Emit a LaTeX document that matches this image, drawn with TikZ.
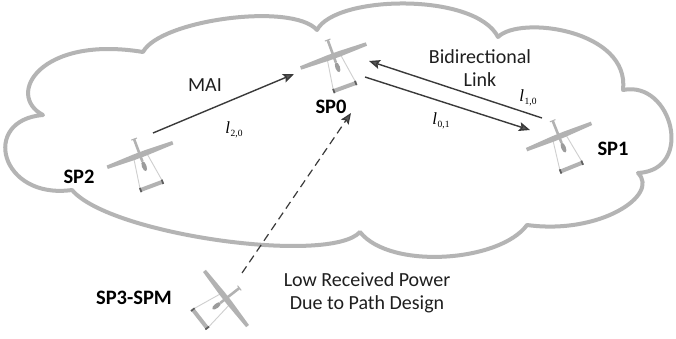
\documentclass[tikz,border=0pt]{standalone}
\usepackage{fontspec}
\setmainfont{Carlito}
\newfontfamily\serifface{Liberation Serif}
\usetikzlibrary{arrows.meta}

\definecolor{cloudc}{HTML}{B4B4B4}
\definecolor{wingc}{HTML}{B2B2B2}
\definecolor{podc}{HTML}{9C9C9C}
\definecolor{boomc}{HTML}{CFCFCF}
\definecolor{capc}{HTML}{5E5E5E}
\definecolor{linkc}{HTML}{3A3A3A}

% link label: italic l with an upright subscript pair
\newcommand{\linklabel}[1]{{\serifface\fontsize{17}{17}\selectfont\itshape l\kern0.5pt\raisebox{-3.5pt}{\fontsize{9.5}{9.5}\selectfont\upshape #1}}}

\tikzset{
  txt/.style={font=\fontsize{20}{23}\selectfont, text=black!88, align=center, inner sep=0pt},
  tag/.style={font=\bfseries\fontsize{20.5}{23}\selectfont, text=black, inner sep=0pt},
  lbl/.style={inner sep=0pt},
  link/.style={draw=linkc, line width=1.4pt,
    -{Stealth[length=11pt,width=9pt,inset=2pt,fill=linkc!85]}},
  weaklink/.style={link, dashed, dash pattern=on 8pt off 5pt, line width=1.2pt},
  plane/.pic={
    % tail booms
    \draw[boomc, line width=0.9pt] (-7,1) -- (-12,33) (7,1) -- (12,33);
    % main wing
    \fill[wingc] (-35,-1.8) -- (-6,-2.8) -- (6,-2.8) -- (35,-1.8)
                 -- (35,1.8) -- (6,2.8) -- (-6,2.8) -- (-35,1.8) -- cycle;
    % fuselage and propeller
    \draw[wingc, line width=2.6pt] (0,-17) -- (0,7);
    \draw[wingc, line width=1pt] (-3,-17) -- (3,-17);
    \fill[podc] (0,12) ellipse (2.3 and 5.2);
    % tail plane with darker tips
    \draw[wingc, line width=4pt] (-12.5,33) -- (12.5,33);
    \draw[capc, line width=4.6pt] (-12.5,33) -- (-10.8,33) (10.8,33) -- (12.5,33);
  }
}

\begin{document}
\begin{tikzpicture}[x=1pt, y=-1pt]
\useasboundingbox[fill=white] (0,0) rectangle (676,339);

% cloud outline
\draw[cloudc, line width=4pt, line join=round]
  (43,115)
  .. controls (5,95) and (40,35) .. (143,52)
  .. controls (160,20) and (292,2) .. (317,30)
  .. controls (335,-5) and (475,-8) .. (498,37)
  .. controls (520,15) and (630,30) .. (623,90)
  .. controls (672,80) and (695,170) .. (638,173)
  .. controls (660,195) and (600,235) .. (527,225)
  .. controls (500,262) and (390,270) .. (360,232)
  .. controls (330,265) and (110,235) .. (72,190)
  .. controls (0,200) and (-20,120) .. cycle;

% aircraft
\pic[rotate=20]   (sp0) at (333.5,56) {plane};
\pic[rotate=22]   (sp1) at (559,136.5) {plane};
\pic[rotate=20.5] (sp2) at (140,155) {plane};
\pic[rotate=-52]  (sp3) at (226,298.5) {plane};

% link end points
\coordinate (maiS) at (153,133);
\coordinate (maiE) at (294,74);
\coordinate (upS)  at (542,118);
\coordinate (upE)  at (369,61);
\coordinate (dnS)  at (365,77);
\coordinate (dnE)  at (530,130);
\coordinate (lowS) at (242,273);
\coordinate (lowE) at (351,113);

\draw[link] (maiS) -- (maiE);
\draw[link] (upS) -- (upE);
\draw[link] (dnS) -- (dnE);
\draw[weaklink] (lowS) -- (lowE);

% labels
\node[txt] (mai) at (205,85) {MAI};
\node[txt] (bidir) at (480,68.5) {Bidirectional\\Link};
\node[txt] (lowpow) at (367,293) {Low Received Power\\Due to Path Design};

\node[tag] (t0) at (331,107) {SP0};
\node[tag] (t1) at (613,149) {SP1};
\node[tag] (t2) at (79,177) {SP2};
\node[tag] (t3) at (134,298) {SP3-SPM};

\node[lbl] (l10) at (528,98)  {\linklabel{1,0}};
\node[lbl] (l01) at (441,121) {\linklabel{0,1}};
\node[lbl] (l20) at (234,130) {\linklabel{2,0}};
\end{tikzpicture}
\end{document}
